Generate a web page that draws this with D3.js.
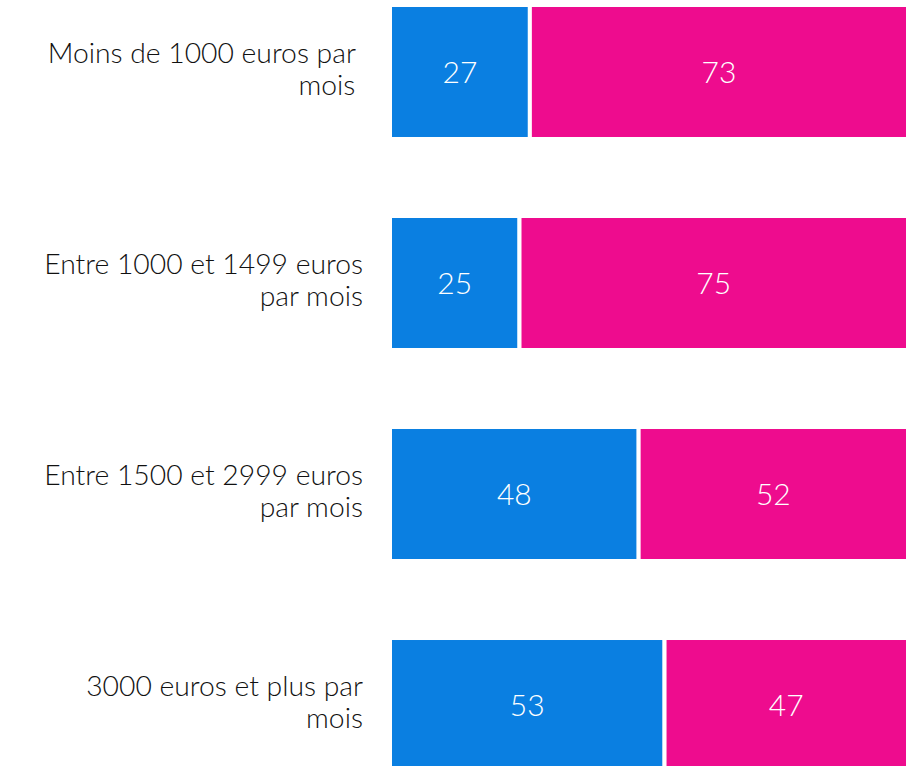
<!DOCTYPE html>
<html>
<head>
<meta charset="utf-8">
<script src="https://cdn.jsdelivr.net/npm/d3@7"></script>
<style>
  body { margin: 0; background: #fff; }
  svg { display: block; }
  .cat { font-family: Lato, "Noto Sans", sans-serif; font-weight: 300; font-size: 28.3px; fill: #111; white-space: pre; }
  .val { font-family: Lato, "Open Sans", sans-serif; font-weight: 300; font-size: 30px; fill: #fff; }
</style>
</head>
<body>
<div id="chart"></div>
<script>
// categories (wrapped as in the original)
var categories = [
  ["Moins de 1000 euros par ", "mois "],
  ["Entre 1000 et 1499 euros", "par mois"],
  ["Entre 1500 et 2999 euros", "par mois"],
  ["3000 euros et plus par", "mois"]
];
var seriesA = [27, 25, 48, 53];
var seriesB = [73, 75, 52, 47];
var colors = ["#0A7FE1", "#EE0C8E"];

var svgWidth = 915;
var svgHeight = 766;

var svg = d3.select("#chart").append("svg")
    .attr("width", svgWidth)
    .attr("height", svgHeight);

var x = d3.scaleLinear().domain([0, 100]).range([390, 908]);
var y = d3.scaleBand()
    .domain(d3.range(categories.length))
    .range([5, 772])
    .paddingInner(0.365)
    .paddingOuter(0)
    .align(0);

// build stacked rows
var rows = categories.map(function(c, i) {
    return [
        {row: i, start: 0, end: seriesA[i], value: seriesA[i], color: colors[0]},
        {row: i, start: seriesA[i], end: seriesA[i] + seriesB[i], value: seriesB[i], color: colors[1]}
    ];
});
var segs = d3.merge(rows);

var chartGroup = svg.append("g");

chartGroup.selectAll("rect")
    .data(segs)
    .enter()
    .append("rect")
    .attr("x", d => x(d.start))
    .attr("y", d => y(d.row))
    .attr("width", d => x(d.end) - x(d.start))
    .attr("height", y.bandwidth())
    .attr("fill", d => d.color)
    .attr("stroke", "#fff")
    .attr("stroke-width", 4);

chartGroup.selectAll("text.val")
    .data(segs)
    .enter()
    .append("text")
    .classed("val", true)
    .attr("x", d => (x(d.start) + x(d.end)) / 2)
    .attr("y", d => y(d.row) + y.bandwidth() / 2)
    .attr("dy", "0.36em")
    .attr("text-anchor", "middle")
    .text(d => d.value);

// category labels
var labelGroup = svg.append("g");
categories.forEach(function(lines, i) {
    var cy = y(i) + y.bandwidth() / 2;
    var t = labelGroup.append("text")
        .classed("cat", true)
        .attr("text-anchor", "end");
    lines.forEach(function(line, j) {
        t.append("tspan")
            .attr("x", 363)
            .attr("y", cy - 9 + j * 32)
            .text(line);
    });
});
</script>
</body>
</html>
